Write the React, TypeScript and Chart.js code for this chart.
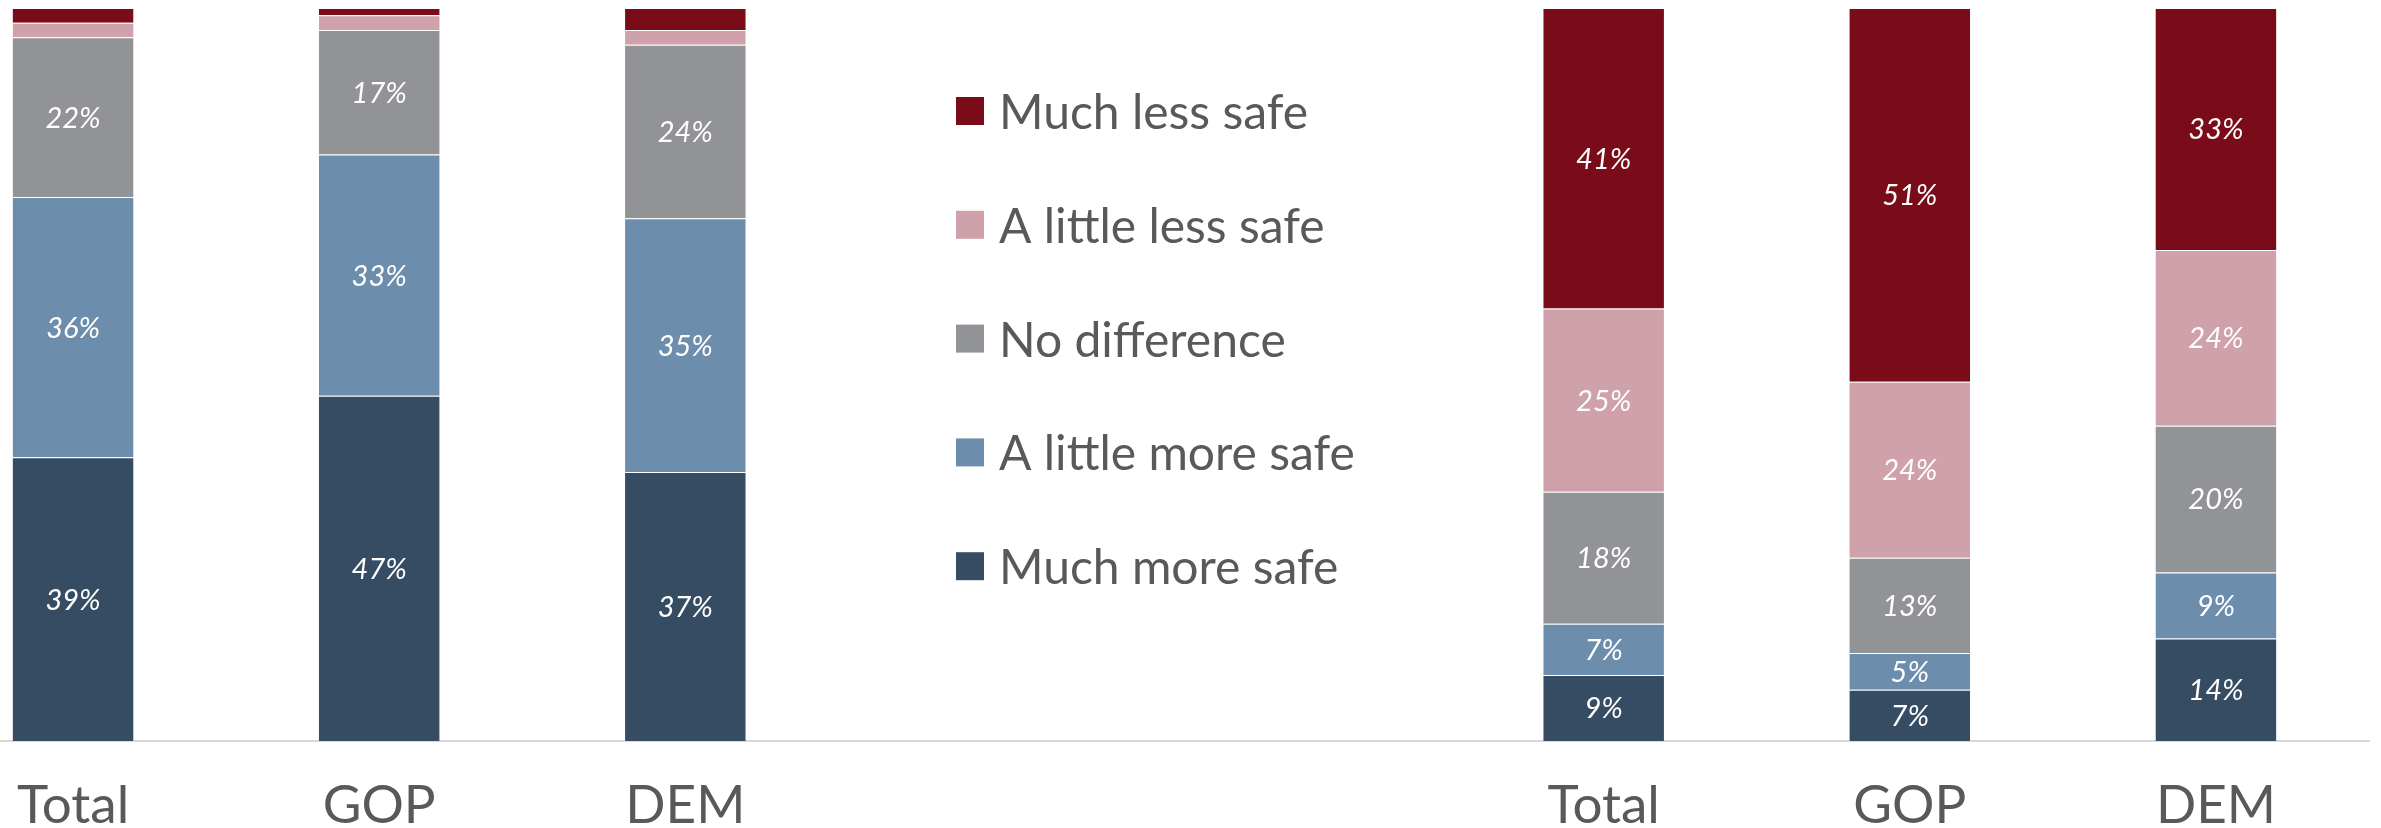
import React, { useEffect, useRef } from 'react';
import { Chart, registerables } from 'chart.js';

Chart.register(...registerables);

const FONT = 'Lato, "Open Sans", sans-serif';

const categories = ['Total', 'GOP', 'DEM', '', '', 'Total', 'GOP', 'DEM'];
const seriesNames = ['Much more safe', 'A little more safe', 'No difference', 'A little less safe', 'Much less safe'];
const seriesColors = ['#364C63', '#6D8DAD', '#929397', '#CFA1AA', '#7A0C1A'];

const muchMoreSafe = [38.7, 47.1, 36.7, null, null, 9, 7, 14];
const littleMoreSafe = [35.5, 32.9, 34.6, null, null, 7, 5, 9];
const noDifference = [21.8, 17, 23.7, null, null, 18, 13, 20];
const littleLessSafe = [2, 2, 2, null, null, 25, 24, 24];
const muchLessSafe = [2, 1, 3, null, null, 41, 51, 33];

const seriesValues = [muchMoreSafe, littleMoreSafe, noDifference, littleLessSafe, muchLessSafe];

const barLabels = {
  id: 'barLabels',
  afterDatasetsDraw(chart: any) {
    const ctx = chart.ctx;
    ctx.save();
    ctx.fillStyle = '#ffffff';
    ctx.font = `italic 29px ${FONT}`;
    ctx.textAlign = 'center';
    ctx.textBaseline = 'middle';
    chart.data.datasets.forEach((ds: any, i: number) => {
      const meta = chart.getDatasetMeta(i);
      meta.data.forEach((el: any, j: number) => {
        const v = ds.data[j];
        if (v == null || v < 4) return;
        const { x, y, base } = el.getProps(['x', 'y', 'base'], true);
        ctx.fillText(`${Math.round(v)}%`, x, (y + base) / 2 + 1);
      });
    });
    ctx.restore();
  },
};

const sideLegend = {
  id: 'sideLegend',
  afterDraw(chart: any, _args: any, opts: any) {
    const ctx = chart.ctx;
    const sets = chart.data.datasets;
    const n = sets.length;
    ctx.save();
    ctx.font = `${opts.fontSize}px ${FONT}`;
    ctx.textBaseline = 'alphabetic';
    ctx.textAlign = 'left';
    for (let k = 0; k < n; k++) {
      const ds = sets[n - 1 - k];
      const cy = opts.top + k * opts.spacing;
      ctx.fillStyle = ds.backgroundColor;
      ctx.fillRect(opts.left, cy - opts.box / 2, opts.box, opts.box);
      ctx.fillStyle = opts.color;
      ctx.fillText(ds.label, opts.left + opts.box + opts.gap, cy + opts.capOffset);
    }
    ctx.restore();
  },
};

export default function App() {
  const ref = useRef<HTMLCanvasElement | null>(null);

  useEffect(() => {
    if (!ref.current) return;
    const chart = new Chart(ref.current, {
      type: 'bar',
      data: {
        labels: categories,
        datasets: seriesNames.map((name, i) => ({
          label: name,
          data: seriesValues[i],
          backgroundColor: seriesColors[i],
          borderColor: 'rgba(255,255,255,0.3)',
          borderWidth: 1,
          categoryPercentage: 1,
          barPercentage: 0.4,
        })),
      },
      options: {
        animation: false,
        responsive: false,
        devicePixelRatio: 1,
        layout: { padding: { top: 8, right: 12, left: 0, bottom: 0 } },
        plugins: {
          legend: { display: false },
          tooltip: { enabled: false },
          sideLegend: {
            left: 1036,
            top: 111,
            spacing: 113.8,
            box: 28,
            gap: 15,
            fontSize: 48,
            capOffset: 18,
            color: '#595959',
          },
        } as any,
        scales: {
          x: {
            stacked: true,
            offset: true,
            grid: { display: false, drawTicks: false },
            border: { display: true, color: '#D9D9D9', width: 2 },
            ticks: {
              color: '#595959',
              font: { family: FONT, size: 53, lineHeight: 1 },
              padding: 38,
              maxRotation: 0,
              autoSkip: false,
            },
            afterFit: (scale: any) => {
              scale.height = 87;
            },
          },
          y: {
            stacked: true,
            display: false,
            min: 0,
            max: 100,
          },
        },
      },
      plugins: [barLabels, sideLegend],
    });
    return () => chart.destroy();
  }, []);

  return (
    <div
      style={{
        position: 'fixed',
        left: 0,
        top: 0,
        width: 2381,
        height: 828,
        overflow: 'hidden',
        background: '#ffffff',
      }}
    >
      <canvas
        ref={ref}
        width={2461}
        height={828}
        style={{ position: 'absolute', left: -80, top: 0, width: 2461, height: 828 }}
      />
    </div>
  );
}
